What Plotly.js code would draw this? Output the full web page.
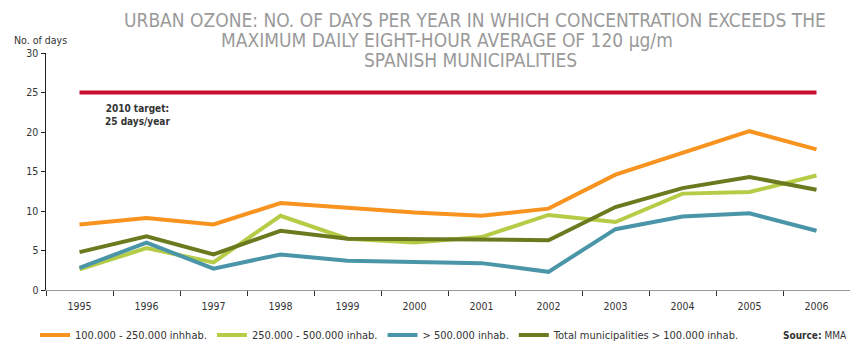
<!DOCTYPE html>
<html><head><meta charset="utf-8">
<script src="https://cdn.plot.ly/plotly-3.0.1.min.js"></script>
<style>html,body{margin:0;padding:0;background:#fff}#chart{width:850px;height:341px}</style>
</head><body><div id="chart"></div>
<script>
const years = ['1995','1996','1997','1998','1999','2000','2001','2002','2003','2004','2005','2006'];
const pop100to250 = [8.3, 9.1, 8.3, 11.0, 10.4, 9.8, 9.4, 10.3, 14.6, 17.4, 20.1, 17.8];
const pop250to500 = [2.6, 5.3, 3.5, 9.4, 6.5, 6.0, 6.7, 9.5, 8.6, 12.2, 12.4, 14.5];
const popOver500 = [2.8, 6.0, 2.7, 4.5, 3.7, 3.5, 3.4, 2.3, 7.7, 9.3, 9.7, 7.5];
const popTotal = [4.8, 6.8, 4.5, 7.5, 6.5, 6.5, 6.4, 6.3, 10.5, 12.9, 14.3, 12.7];
const target2010 = [25, 25, 25, 25, 25, 25, 25, 25, 25, 25, 25, 25];
const seriesNames = ['100.000 - 250.000 inhhab.', '250.000 - 500.000 inhab.', '> 500.000 inhab.', 'Total municipalities > 100.000 inhab.'];
const yTicks = [0, 5, 10, 15, 20, 25, 30];
const titleLines = ['URBAN OZONE: NO. OF DAYS PER YEAR IN WHICH CONCENTRATION EXCEEDS THE', 'MAXIMUM DAILY EIGHT-HOUR AVERAGE OF 120 µg/m', 'SPANISH MUNICIPALITIES'];

const font = "'DejaVu Sans Condensed','Liberation Sans Narrow',sans-serif";
const colors = ['#F7931E', '#B5CC46', '#4A96A8', '#6B7A1F'];
const vals = [pop100to250, pop250to500, popOver500, popTotal];

const traces = [{
  x: years, y: target2010, type: 'scatter', mode: 'lines', showlegend: false,
  line: {color: '#C8102E', width: 4}, hoverinfo: 'skip'
}];
vals.forEach((v, i) => traces.push({
  x: years, y: v, type: 'scatter', mode: 'lines', name: seriesNames[i],
  line: {color: colors[i], width: 4}
}));

// title line placement (pixel centres)
const titlePos = [[475, 20], [447, 40], [471, 60]];
const L = 46, T = 53, W = 804, H = 237;
const px = x => (x - L) / W;
const py = y => (T + H - y) / H;

const annotations = titleLines.map((t, i) => ({
  text: t, xref: 'paper', yref: 'paper', x: px(titlePos[i][0]), y: py(titlePos[i][1]),
  xanchor: 'center', yanchor: 'middle', showarrow: false,
  font: {family: font, size: 19, color: '#9a9a9a'}
}));
annotations.push(
  {text: 'No. of days', xref: 'paper', yref: 'paper', x: px(12), y: py(40), xanchor: 'left', yanchor: 'middle',
   showarrow: false, font: {family: font, size: 10.5, color: '#333'}},
  {text: '<b>2010 target:<br>25 days/year</b>', xref: 'x', yref: 'y', x: 0.87, y: 22.2, xanchor: 'center', yanchor: 'middle',
   align: 'center', showarrow: false, font: {family: font, size: 10, color: '#333'}},
  {text: '<b>Source:</b> MMA', xref: 'paper', yref: 'paper', x: px(849), y: py(335), xanchor: 'right', yanchor: 'middle',
   showarrow: false, font: {family: font, size: 10, color: '#333'}}
);

const layout = {
  width: 850, height: 341,
  margin: {l: L, r: 850 - L - W, t: T, b: 341 - T - H, autoexpand: false},
  paper_bgcolor: '#fff', plot_bgcolor: '#fff',
  font: {family: font, size: 10, color: '#333'},
  xaxis: {
    type: 'category', range: [-0.5, 11.5], tickson: 'boundaries',
    ticks: 'outside', ticklen: 5, tickcolor: '#333', tickwidth: 1,
    showline: true, linecolor: '#999', linewidth: 1,
    showgrid: false, zeroline: false, fixedrange: true,
    ticklabelstandoff: 6,
    tickfont: {family: font, size: 10.5, color: '#333'}
  },
  yaxis: {
    range: [0, 30], tickvals: yTicks, ticktext: yTicks.map(String),
    ticks: 'outside', ticklen: 4, tickcolor: '#222',
    showline: true, linecolor: '#222', linewidth: 1.5,
    showgrid: false, zeroline: false, fixedrange: true,
    tickfont: {family: font, size: 10.5, color: '#333'}
  },
  showlegend: true,
  legend: {
    orientation: 'h', x: px(35), xanchor: 'left', y: py(335), yanchor: 'middle',
    font: {family: font, size: 11, color: '#333'},
    itemwidth: 30, tracegroupgap: 0, bgcolor: 'rgba(0,0,0,0)'
  },
  annotations: annotations
};
Plotly.newPlot('chart', traces, layout, {displayModeBar: false, staticPlot: true});
</script></body></html>
